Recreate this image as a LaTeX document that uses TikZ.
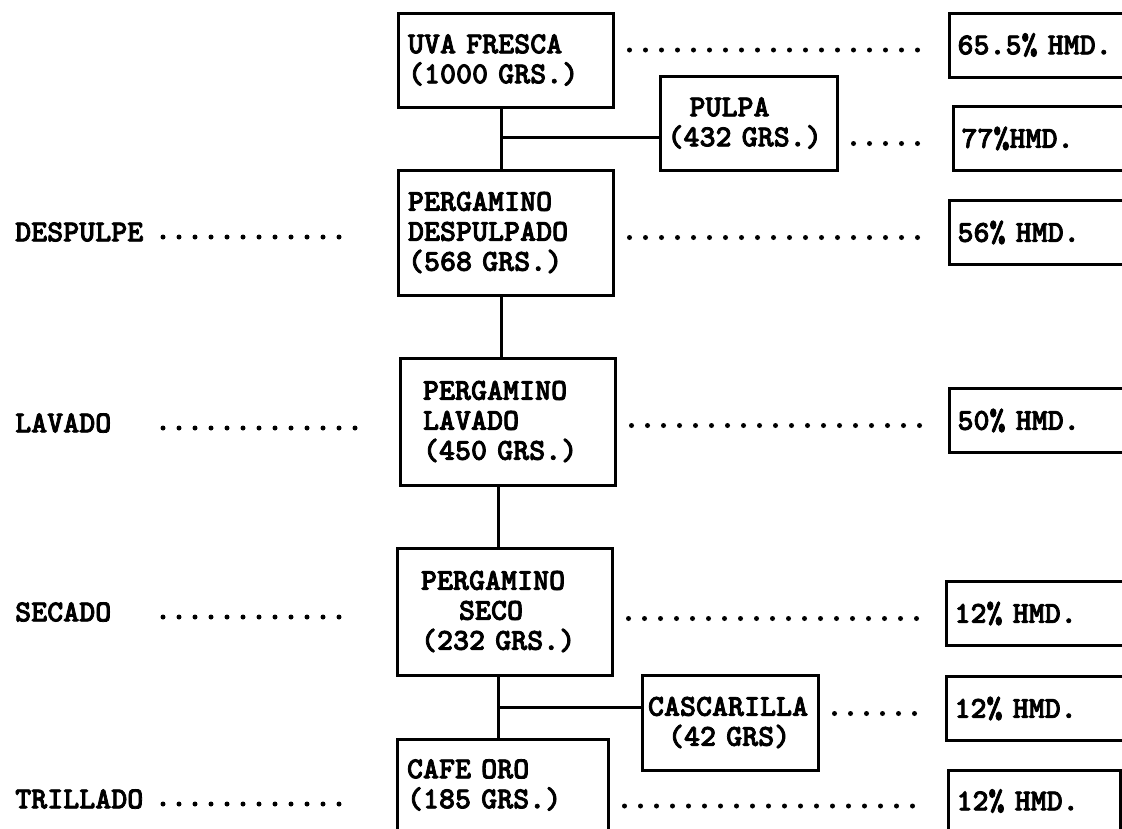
\documentclass[tikz,border=0pt]{standalone}
\usepackage{fontspec}
\usepackage{tikz}
\usetikzlibrary{positioning}
\newfontfamily\twfont{lmmonolt10-bold.otf}[FakeBold=2.5]
\newcommand{\tw}{\twfont\fontsize{30.5}{30}\selectfont}
\tikzset{
  box/.style={draw,line width=3pt,align=left,inner ysep=0pt,font=\tw},
  hmd/.style={box,anchor=west,minimum height=64pt,text width=200pt,inner xsep=8pt},
  lnk/.style={line width=3pt},
  dots/.style={line width=5pt,line cap=round,dash pattern=on 0pt off 16pt},
  rdots/.style={dots,shorten <=15pt,shorten >=26pt,transform canvas={yshift=-5pt}},
  lbl/.style={anchor=west,inner sep=0pt,font=\tw}
}

\begin{document}
\begin{tikzpicture}[x=1pt,y=-1pt]
\clip (0,0) rectangle (1122,828);
\node[box,minimum height=94pt,text width=195pt,inner xsep=10pt] (uva) at (505.5,60) {UVA FRESCA\\(1000 GRS.)};
\node[box,minimum height=94pt,text width=162pt,inner xsep=7.5pt] (pulpa) at (748.5,123) {\hspace*{22pt}PULPA\\(432 GRS.)};
\node[box,minimum height=125pt,text width=195pt,inner xsep=10pt] (desp) at (505.5,232.5) {PERGAMINO\\DESPULPADO\\(568 GRS.)};
\node[box,minimum height=127pt,text width=169pt,inner xsep=23pt] (lav) at (507.5,421.5) {PERGAMINO\\LAVADO\\(450 GRS.)};
\node[box,minimum height=127pt,text width=167pt,inner xsep=24pt] (seco) at (504.5,611.5) {PERGAMINO\\\hspace*{38pt}SECO\\(232 GRS.)};
\node[box,minimum height=95pt,text width=164pt,inner xsep=6pt] (casc) at (730,722.5) {CASCARILLA\\\hspace*{20pt}(42 GRS)};
\node[box,minimum height=92pt,text width=191pt,inner xsep=10pt] (cafe) at (502.5,785) {CAFE ORO\\(185 GRS.)};
\foreach \nm/\xx/\yy/\tx in {h1/948/45/65.5\% HMD.,h2/952/138.5/77\%HMD.,h3/948/232.5/56\% HMD.,
  h4/948/420.5/50\% HMD.,h5/945/613.5/12\% HMD.,h6/945/708.5/12\% HMD.}
  \node[hmd] (\nm) at (\xx,\yy) {\tx};
\node[hmd,minimum height=62pt,text width=156pt] (h7) at (947,801) {12\% HMD.};
\coordinate (j1) at (501,137);
\coordinate (j2) at (498,707);
\draw[lnk] (uva.south -| j1) -- (desp.north -| j1);
\draw[lnk] (j1) -- (pulpa.west |- j1);
\draw[lnk] (desp.south -| j1) -- (lav.north -| j1);
\draw[lnk] (lav.south -| j2) -- (seco.north -| j2);
\draw[lnk] (seco.south -| j2) -- (cafe.north -| j2);
\draw[lnk] (j2) -- (casc.west |- j2);
\draw[rdots] (uva.east |- h1.west) -- (h1.west);
\draw[rdots] (pulpa.east |- h2.west) -- (h2.west);
\draw[rdots] (desp.east |- h3.west) -- (h3.west);
\draw[rdots] (lav.east |- h4.west) -- (h4.west);
\draw[rdots] (seco.east |- h5.west) -- (h5.west);
\draw[rdots] (casc.east |- h6.west) -- (h6.west);
\draw[rdots] (cafe.east |- h7.west) -- (h7.west);
\foreach \nm/\tx/\yy in {desp/DESPULPE/232,lav/LAVADO/423,seco/SECADO/612,cafe/TRILLADO/799}{
  \node[lbl] (t\nm) at (15,\yy) {\tx};
  \coordinate (d\nm) at (163,\yy+5);
  \draw[dots,shorten >=42pt] (d\nm) -- (d\nm -| \nm.west);
}
\end{tikzpicture}
\end{document}
